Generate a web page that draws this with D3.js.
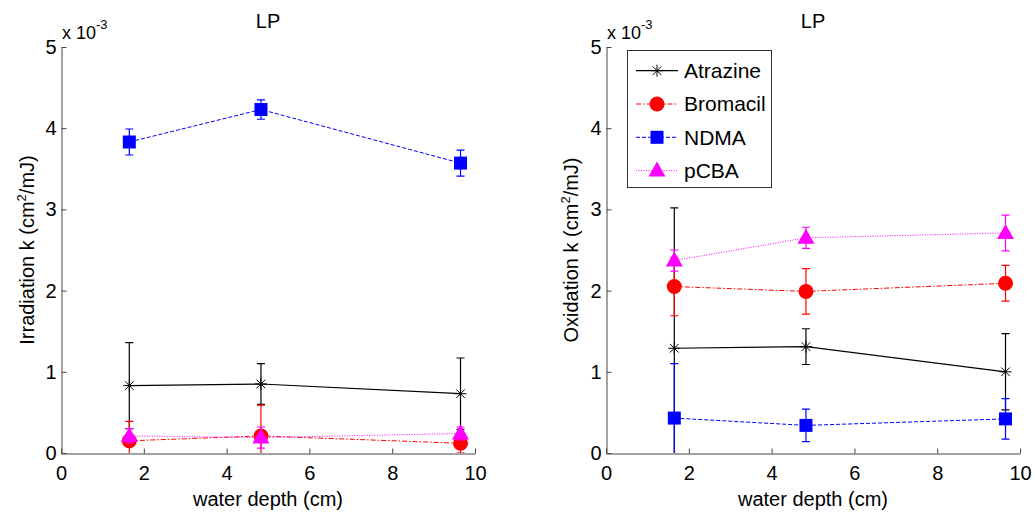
<!DOCTYPE html>
<html>
<head>
<meta charset="utf-8">
<script src="https://cdn.jsdelivr.net/npm/d3@7"></script>
<style>
  body { margin: 0; background: white; }
  svg { display: block; font-family: "Liberation Sans", Arial, sans-serif; }
</style>
</head>
<body>
<svg id="chart" width="1036" height="515"></svg>
<script>
// water depth (cm)
const depth = [1.65, 4.83, 9.65];

// rate constants, in units of 10^-3 cm^2/mJ
const atrazineIrr = [0.83, 0.85, 0.73];
const atrazineIrrErr = [0.53, 0.25, 0.44];
const bromacilIrr = [0.15, 0.21, 0.12];
const bromacilIrrErr = [0.24, 0.38, 0.12];
const ndmaIrr = [3.83, 4.23, 3.57];
const ndmaIrrErr = [0.16, 0.12, 0.16];
const pcbaIrr = [0.21, 0.19, 0.24];
const pcbaIrrErr = [0.09, 0.13, 0.08];

const atrazineOx = [1.29, 1.31, 1.00];
const atrazineOxErr = [1.73, 0.22, 0.47];
const bromacilOx = [2.05, 1.99, 2.09];
const bromacilOxErr = [0.36, 0.28, 0.22];
const ndmaOx = [0.43, 0.34, 0.42];
const ndmaOxErr = [0.67, 0.20, 0.25];
const pcbaOx = [2.37, 2.65, 2.71];
const pcbaOxErr = [0.13, 0.13, 0.22];

const xTicks = [0, 2, 4, 6, 8, 10];
const yTicks = [0, 1, 2, 3, 4, 5];

const seriesNames = ["Atrazine", "Bromacil", "NDMA", "pCBA"];

// line / marker styles per compound (matlab-ish)
const styles = {
  "Atrazine": { color: "#000000", dash: null, marker: "star", width: 1.2 },
  "Bromacil": { color: "#ff0000", dash: "5,2,1.5,2", marker: "circle", width: 1 },
  "NDMA": { color: "#0000ff", dash: "4,2", marker: "square", width: 1 },
  "pCBA": { color: "#ff00ff", dash: "1,1.5", marker: "triangle", width: 1 }
};

const panels = [
  {
    left: 61, right: 475, top: 47, bottom: 453,
    ylabel: "Irradiation k (cm", labelX: 34,
    data: { "Atrazine": [atrazineIrr, atrazineIrrErr], "Bromacil": [bromacilIrr, bromacilIrrErr],
            "NDMA": [ndmaIrr, ndmaIrrErr], "pCBA": [pcbaIrr, pcbaIrrErr] },
    legend: false
  },
  {
    left: 606, right: 1020, top: 47, bottom: 453,
    ylabel: "Oxidation k (cm", labelX: 578,
    data: { "Atrazine": [atrazineOx, atrazineOxErr], "Bromacil": [bromacilOx, bromacilOxErr],
            "NDMA": [ndmaOx, ndmaOxErr], "pCBA": [pcbaOx, pcbaOxErr] },
    legend: true
  }
];

const svg = d3.select("#chart");
const fontSize = 20;
const axisColor = "#444";

function drawMarker(g, type, color, x, y) {
  if (type === "star") {
    const s = 6;
    const d = s * 0.72;
    g.append("path")
      .attr("d", `M${x - s},${y}L${x + s},${y}M${x},${y - s}L${x},${y + s}` +
        `M${x - d},${y - d}L${x + d},${y + d}M${x - d},${y + d}L${x + d},${y - d}`)
      .attr("stroke", color).attr("stroke-width", 1).attr("fill", "none");
  } else if (type === "circle") {
    g.append("circle").attr("cx", x).attr("cy", y).attr("r", 7.5).attr("fill", color);
  } else if (type === "square") {
    g.append("rect").attr("x", x - 6.5).attr("y", y - 6.5)
      .attr("width", 13).attr("height", 13).attr("fill", color);
  } else if (type === "triangle") {
    g.append("path")
      .attr("d", `M${x},${y - 9}L${x + 8.5},${y + 6}L${x - 8.5},${y + 6}Z`)
      .attr("fill", color);
  }
}

panels.forEach((p, i) => {
  const x = d3.scaleLinear().domain([0, 10]).range([p.left, p.right]);
  const y = d3.scaleLinear().domain([0, 5]).range([p.bottom, p.top]);

  const clipId = "clip" + i;
  svg.append("clipPath").attr("id", clipId)
    .append("rect")
    .attr("x", p.left).attr("y", p.top)
    .attr("width", p.right - p.left).attr("height", p.bottom - p.top);

  // axes, ticks inward like matlab
  const xAxis = svg.append("g")
    .attr("transform", `translate(0,${p.bottom + 0.5})`)
    .call(d3.axisBottom(x).tickValues(xTicks).tickFormat(d3.format("d"))
      .tickSizeInner(-5).tickSizeOuter(0).tickPadding(12));
  const yAxis = svg.append("g")
    .attr("transform", `translate(${p.left + 0.5},0)`)
    .call(d3.axisLeft(y).tickValues(yTicks).tickFormat(d3.format("d"))
      .tickSizeInner(-5).tickSizeOuter(0).tickPadding(5));

  [xAxis, yAxis].forEach(a => {
    a.select(".domain").attr("stroke", axisColor);
    a.selectAll(".tick line").attr("stroke", axisColor);
    a.selectAll(".tick text")
      .attr("fill", "#000")
      .style("font-size", fontSize + "px")
      .style("font-family", "Liberation Sans, Arial, sans-serif");
  });

  // title
  svg.append("text")
    .attr("x", (p.left + p.right) / 2).attr("y", 28)
    .attr("text-anchor", "middle")
    .style("font-size", fontSize + "px")
    .text("LP");

  // exponent note
  const ex = svg.append("text")
    .attr("x", p.left + 1).attr("y", 39)
    .style("font-size", "18px");
  ex.append("tspan").text("x 10");
  ex.append("tspan").attr("dy", -10).style("font-size", "13px").text("-3");

  // x label
  svg.append("text")
    .attr("x", (p.left + p.right) / 2).attr("y", 506)
    .attr("text-anchor", "middle")
    .style("font-size", fontSize + "px")
    .text("water depth (cm)");

  // y label
  const yl = svg.append("text")
    .attr("transform", `translate(${p.labelX},${(p.top + p.bottom) / 2}) rotate(-90)`)
    .attr("text-anchor", "middle")
    .style("font-size", fontSize + "px");
  yl.append("tspan").text(p.ylabel);
  yl.append("tspan").attr("dy", -8).style("font-size", "13px").text("2");
  yl.append("tspan").attr("dy", 8).text("/mJ)");

  const plot = svg.append("g").attr("clip-path", `url(#${clipId})`);

  seriesNames.forEach(name => {
    const st = styles[name];
    const vals = p.data[name][0];
    const errs = p.data[name][1];
    const pts = depth.map((d, j) => ({ x: d, v: vals[j], e: errs[j] }));
    const g = plot.append("g");

    // error bars
    pts.forEach(d => {
      const cx = x(d.x);
      const y1 = y(d.v + d.e), y2 = y(d.v - d.e);
      g.append("path")
        .attr("d", `M${cx},${y1}L${cx},${y2}M${cx - 4},${y1}L${cx + 4},${y1}M${cx - 4},${y2}L${cx + 4},${y2}`)
        .attr("stroke", st.color).attr("stroke-width", 1.2).attr("fill", "none");
    });

    g.append("path")
      .datum(pts)
      .attr("d", d3.line().x(d => x(d.x)).y(d => y(d.v)))
      .attr("fill", "none")
      .attr("stroke", st.color)
      .attr("stroke-width", st.width)
      .attr("stroke-dasharray", st.dash);

    pts.forEach(d => drawMarker(g, st.marker, st.color, x(d.x), y(d.v)));
  });

  if (p.legend) {
    const lg = svg.append("g");
    lg.append("rect")
      .attr("x", 627.5).attr("y", 50.5).attr("width", 144).attr("height", 137)
      .attr("fill", "white").attr("stroke", "#333").attr("stroke-width", 1);
    seriesNames.forEach((name, k) => {
      const st = styles[name];
      const ly = 70.7 + k * 33.3;
      lg.append("line")
        .attr("x1", 636).attr("x2", 678).attr("y1", ly).attr("y2", ly)
        .attr("stroke", st.color).attr("stroke-width", st.width)
        .attr("stroke-dasharray", st.dash);
      drawMarker(lg, st.marker, st.color, 657, ly);
      lg.append("text")
        .attr("x", 684).attr("y", ly).attr("dy", "0.35em")
        .style("font-size", "21px")
        .text(name);
    });
  }
});
</script>
</body>
</html>
